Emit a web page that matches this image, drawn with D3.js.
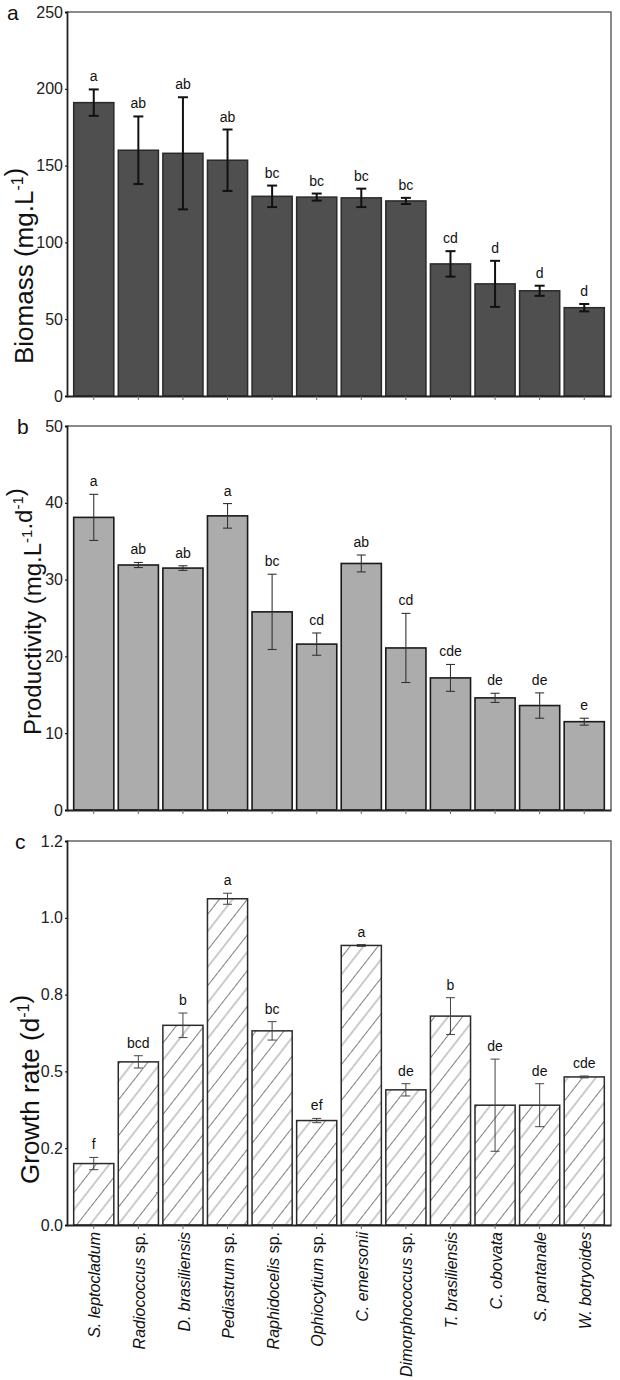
<!DOCTYPE html>
<html>
<head>
<meta charset="utf-8">
<script src="https://cdn.jsdelivr.net/npm/d3@7"></script>
<style>
  body { margin: 0; background: #fff; }
  svg { display: block; font-family: "Liberation Sans", Arial, sans-serif; }
</style>
</head>
<body>
<div id="chart"></div>
<script>
// species on the x axis (shared by all three panels)
const species = ["S. leptocladum", "Radiococcus sp.", "D. brasiliensis", "Pediastrum sp.",
  "Raphidocelis sp.", "Ophiocytium sp.", "C. emersonii", "Dimorphococcus sp.",
  "T. brasiliensis", "C. obovata", "S. pantanale", "W. botryoides"];

// panel a - biomass
const biomass = [191, 160, 158, 153.5, 130, 129.5, 129, 127, 86, 73, 68.5, 57.5];
const biomassErr = [8.6, 22, 36.5, 20, 7, 2.3, 6, 2, 8.3, 15, 3.3, 2.4];
const biomassLetters = ["a", "ab", "ab", "ab", "bc", "bc", "bc", "bc", "cd", "d", "d", "d"];
const biomassTicks = [0, 50, 100, 150, 200, 250];

// panel b - productivity
const productivity = [38.1, 31.9, 31.5, 38.3, 25.8, 21.6, 32.1, 21.1, 17.2, 14.6, 13.6, 11.5];
const productivityErr = [3, 0.33, 0.3, 1.6, 4.9, 1.45, 1.1, 4.5, 1.75, 0.6, 1.65, 0.45];
const productivityLetters = ["a", "ab", "ab", "a", "bc", "cd", "ab", "cd", "cde", "de", "de", "e"];
const productivityTicks = [0, 10, 20, 30, 40, 50];

// panel c - growth rate
const growth = [0.20, 0.531, 0.65, 1.062, 0.632, 0.34, 0.91, 0.44, 0.68, 0.39, 0.39, 0.482];
const growthErr = [0.02, 0.02, 0.04, 0.018, 0.03, 0.007, 0.003, 0.02, 0.06, 0.15, 0.07, 0.003];
const growthLetters = ["f", "bcd", "b", "a", "bc", "ef", "a", "de", "b", "de", "de", "cde"];
const growthTicks = [0, 0.25, 0.5, 0.75, 1.0, 1.25];
const growthTickLabels = ["0.0", "0.2", "0.5", "0.8", "1.0", "1.2"];

const W = 620, H = 1380;
const left = 67, right = 611;

const svg = d3.select("#chart").append("svg")
  .attr("width", W)
  .attr("height", H);

// hatch pattern for panel c: alternating dark / light diagonal strokes
const defs = svg.append("defs");
const hatch = defs.append("pattern")
  .attr("id", "hatch")
  .attr("patternUnits", "userSpaceOnUse")
  .attr("width", 22)
  .attr("height", 22)
  .attr("patternTransform", "rotate(38)");
hatch.append("rect").attr("width", 22).attr("height", 22).attr("fill", "#fff");
hatch.append("line").attr("x1", 0).attr("y1", 0).attr("x2", 0).attr("y2", 22)
  .attr("stroke", "#2a2a2a").attr("stroke-width", 1.2);
hatch.append("line").attr("x1", 11).attr("y1", 0).attr("x2", 11).attr("y2", 22)
  .attr("stroke", "#a8a8a8").attr("stroke-width", 1.2);

const x = d3.scaleBand()
  .domain(species)
  .range([left, right])
  .paddingInner(0.1)
  .paddingOuter(0.15);

function drawPanel(cfg) {
  const y = d3.scaleLinear()
    .domain([0, cfg.max])
    .range([cfg.bottom, cfg.top]);

  const g = svg.append("g");

  // bars
  g.selectAll(".bar")
    .data(cfg.values)
    .enter()
    .append("rect")
    .attr("x", (d, i) => x(species[i]))
    .attr("y", d => y(d))
    .attr("width", x.bandwidth())
    .attr("height", d => y(0) - y(d))
    .attr("fill", cfg.fill)
    .attr("stroke", cfg.stroke)
    .attr("stroke-width", cfg.barStroke);

  // error bars
  const cap = cfg.cap;
  const err = g.selectAll(".err")
    .data(cfg.values)
    .enter()
    .append("g")
    .attr("stroke", cfg.errColor)
    .attr("stroke-width", cfg.errWidth);
  err.append("line")
    .attr("x1", (d, i) => x(species[i]) + x.bandwidth() / 2)
    .attr("x2", (d, i) => x(species[i]) + x.bandwidth() / 2)
    .attr("y1", (d, i) => y(d + cfg.errors[i]))
    .attr("y2", (d, i) => y(d - cfg.errors[i]));
  [1, -1].forEach(s => {
    err.append("line")
      .attr("x1", (d, i) => x(species[i]) + x.bandwidth() / 2 - cap)
      .attr("x2", (d, i) => x(species[i]) + x.bandwidth() / 2 + cap)
      .attr("y1", (d, i) => y(d + s * cfg.errors[i]))
      .attr("y2", (d, i) => y(d + s * cfg.errors[i]));
  });

  // significance letters
  g.selectAll(".letter")
    .data(cfg.values)
    .enter()
    .append("text")
    .attr("x", (d, i) => x(species[i]) + x.bandwidth() / 2)
    .attr("y", (d, i) => y(d + cfg.errors[i]) - 8)
    .attr("text-anchor", "middle")
    .style("font-size", "14px")
    .style("fill", "#111")
    .text((d, i) => cfg.letters[i]);

  // frame (top and right)
  g.append("path")
    .attr("d", `M${left},${cfg.top}H${right}V${cfg.bottom}`)
    .attr("fill", "none")
    .attr("stroke", "#666")
    .attr("stroke-width", 1.5);

  // y axis
  const yAxis = d3.axisLeft(y)
    .tickValues(cfg.ticks)
    .tickSize(2)
    .tickPadding(2);
  if (cfg.tickLabels) yAxis.tickFormat((d, i) => cfg.tickLabels[i]);
  const ya = g.append("g")
    .attr("transform", `translate(${left},0)`)
    .call(yAxis);
  ya.select(".domain").attr("stroke", "#222").attr("stroke-width", 1.8);
  ya.selectAll("text").style("font-size", "16px").style("fill", "#222");

  // x axis
  const xAxis = d3.axisBottom(x).tickSize(4).tickSizeOuter(0).tickFormat("");
  const xa = g.append("g")
    .attr("transform", `translate(0,${cfg.bottom})`)
    .call(xAxis);
  xa.select(".domain").attr("stroke", "#222").attr("stroke-width", 1.8);
  xa.selectAll(".tick line").attr("stroke", "#666");

  // panel letter
  svg.append("text")
    .attr("x", cfg.tagX)
    .attr("y", cfg.top + 8)
    .style("font-size", "21px")
    .style("fill", "#111")
    .text(cfg.tag);

  // y axis title with superscripts
  const title = svg.append("text")
    .attr("transform", `translate(${cfg.titleX},${cfg.titleY}) rotate(-90)`)
    .attr("text-anchor", "start")
    .style("font-size", cfg.titleSize + "px")
    .style("fill", "#111");
  const supSize = Math.round(cfg.titleSize * 0.62);
  const lift = Math.round(cfg.titleSize * 0.38);
  cfg.title.forEach(part => {
    if (part.sup) {
      title.append("tspan").attr("dy", -lift).style("font-size", supSize + "px").text(part.sup);
      title.append("tspan").attr("dy", lift).text("");
    } else {
      title.append("tspan").text(part.t);
    }
  });
  return y;
}

drawPanel({
  values: biomass, errors: biomassErr, letters: biomassLetters,
  ticks: biomassTicks, max: 250, top: 12, bottom: 396,
  fill: "#4f4f4f", stroke: "#2a2a2a", barStroke: 1.5,
  errColor: "#111", errWidth: 2, cap: 5,
  tag: "a", tagX: 7,
  titleX: 33, titleY: 364, titleSize: 26,
  title: [{ t: "Biomass (mg.L" }, { sup: "-1" }, { t: ")" }]
});

drawPanel({
  values: productivity, errors: productivityErr, letters: productivityLetters,
  ticks: productivityTicks, max: 50, top: 426, bottom: 810,
  fill: "#acacac", stroke: "#1a1a1a", barStroke: 1.6,
  errColor: "#333", errWidth: 1.1, cap: 4.5,
  tag: "b", tagX: 17,
  titleX: 41, titleY: 735, titleSize: 24,
  title: [{ t: "Productivity (mg.L" }, { sup: "-1" }, { t: ".d" }, { sup: "-1" }, { t: ")" }]
});

drawPanel({
  values: growth, errors: growthErr, letters: growthLetters,
  ticks: growthTicks, tickLabels: growthTickLabels, max: 1.25, top: 841, bottom: 1225,
  fill: "url(#hatch)", stroke: "#2a2a2a", barStroke: 1.5,
  errColor: "#444", errWidth: 1, cap: 4.5,
  tag: "c", tagX: 15,
  titleX: 39, titleY: 1184, titleSize: 26,
  title: [{ t: "Growth rate (d" }, { sup: "-1" }, { t: ")" }]
});

// species labels, rotated, italic names with upright "sp."
const labels = svg.append("g")
  .selectAll("text")
  .data(species)
  .enter()
  .append("text")
  .attr("transform", d => `translate(${x(d) + x.bandwidth() / 2 + 1},1232) rotate(-90)`)
  .attr("text-anchor", "end")
  .attr("dy", "0.35em")
  .style("font-size", "16px")
  .style("fill", "#111");
labels.each(function(d) {
  const t = d3.select(this);
  if (d.endsWith(" sp.")) {
    t.append("tspan").style("font-style", "italic").text(d.slice(0, -4));
    t.append("tspan").text(" sp.");
  } else {
    t.append("tspan").style("font-style", "italic").text(d);
  }
});
</script>
</body>
</html>
